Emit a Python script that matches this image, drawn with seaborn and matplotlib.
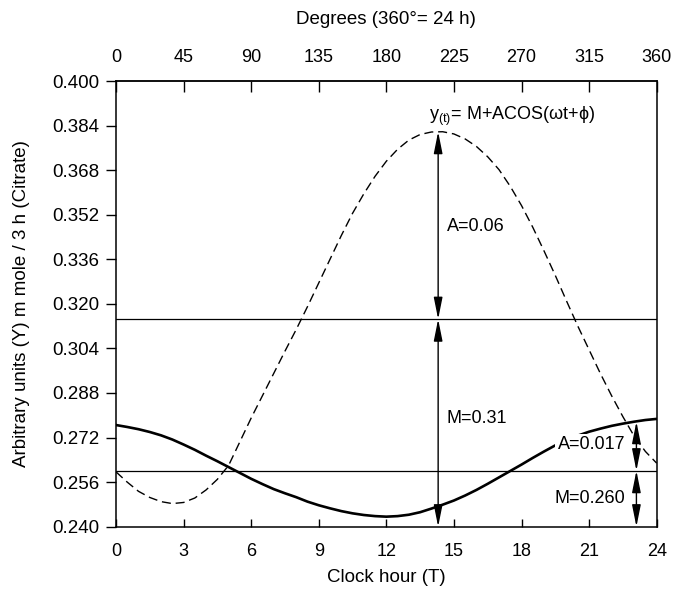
import matplotlib
matplotlib.use("Agg")
import matplotlib.pyplot as plt
import numpy as np
import pandas as pd
import seaborn as sns

# values, every half clock hour
hours = np.arange(0, 24.5, 0.5)
dashed_values = [
    0.2597, 0.2560, 0.2527, 0.2505, 0.2490, 0.2483, 0.2487, 0.2503, 0.2532,
    0.2570, 0.2620, 0.2705, 0.2790, 0.2870, 0.2950, 0.3030, 0.3108, 0.3190,
    0.3275, 0.3360, 0.3445, 0.3525, 0.3595, 0.3658, 0.3712, 0.3755, 0.3788,
    0.3808, 0.3817, 0.3818, 0.3810, 0.3792, 0.3765, 0.3728, 0.3682, 0.3622,
    0.3553, 0.3475, 0.3390, 0.3302, 0.3210, 0.3120, 0.3035, 0.2950, 0.2870,
    0.2795, 0.2725, 0.2670, 0.2628,
]
solid_values = [
    0.2765, 0.2758, 0.2750, 0.2740, 0.2728, 0.2713, 0.2695, 0.2676, 0.2655,
    0.2635, 0.2614, 0.2593, 0.2572, 0.2553, 0.2535, 0.2520, 0.2506, 0.2490,
    0.2477, 0.2466, 0.2456, 0.2448, 0.2442, 0.2438, 0.2436, 0.2438, 0.2443,
    0.2452, 0.2465, 0.2479, 0.2494, 0.2512, 0.2532, 0.2554, 0.2577, 0.2600,
    0.2623, 0.2647, 0.2670, 0.2692, 0.2711, 0.2727, 0.2741, 0.2752, 0.2762,
    0.2770, 0.2777, 0.2783, 0.2787,
]
dashed_mesor = 0.3145
solid_mesor = 0.2601
dashed_peak_hour = 14.3
solid_arrow_hour = 23.1

y_ticks = [0.240, 0.256, 0.272, 0.288, 0.304, 0.320, 0.336, 0.352, 0.368, 0.384, 0.400]
hour_ticks = [0, 3, 6, 9, 12, 15, 18, 21, 24]
degree_ticks = [0, 45, 90, 135, 180, 225, 270, 315, 360]


def double_arrow(ax, x, y_from, y_to):
    ax.annotate(
        "", xy=(x, y_to), xytext=(x, y_from),
        arrowprops=dict(arrowstyle="<|-|>,head_length=1.1,head_width=0.22",
                        color="black", lw=1.0, shrinkA=0, shrinkB=0),
    )


def main():
    sns.set_theme(style="ticks")
    plt.rcParams["font.family"] = ["Liberation Sans", "DejaVu Sans"]
    plt.rcParams["mathtext.fontset"] = "custom"
    plt.rcParams["mathtext.rm"] = "Liberation Sans"
    plt.rcParams["text.color"] = "black"
    plt.rcParams["axes.labelcolor"] = "black"

    df = pd.DataFrame({"hour": hours, "dashed": dashed_values, "solid": solid_values})

    fig = plt.figure(figsize=(6.77, 5.91), dpi=100)
    ax = fig.add_axes([0.1713, 0.1088, 0.7987, 0.7541])

    sns.lineplot(data=df, x="hour", y="dashed", color="black", lw=1.0,
                 linestyle=(0, (6.5, 3.5)), ax=ax)
    sns.lineplot(data=df, x="hour", y="solid", color="black", lw=1.9, ax=ax)

    ax.axhline(dashed_mesor, color="black", lw=0.9)
    ax.axhline(solid_mesor, color="black", lw=0.9)

    ax.set_xlim(0, 24)
    ax.set_ylim(0.240, 0.400)
    ax.set_xticks(hour_ticks)
    ax.set_yticks(y_ticks)
    ax.set_yticklabels([f"{v:.3f}" for v in y_ticks])
    ax.tick_params(axis="x", direction="in", length=6, width=1, pad=12,
                   labelsize=13, colors="black")
    ax.tick_params(axis="y", direction="out", length=7, width=1, pad=5,
                   labelsize=13.5, colors="black")
    ax.set_xlabel("")
    ax.set_ylabel("")
    for spine in ax.spines.values():
        spine.set_visible(True)
        spine.set_color("black")
        spine.set_linewidth(1.1)

    top = ax.secondary_xaxis("top", functions=(lambda h: h * 15, lambda d: d / 15))
    top.set_xticks(degree_ticks)
    top.tick_params(direction="in", length=8, width=1, pad=11,
                    labelsize=13, colors="black")
    top.spines["top"].set_linewidth(1.1)

    # amplitude / mesor arrows
    peak = max(dashed_values)
    double_arrow(ax, dashed_peak_hour, dashed_mesor, peak)
    double_arrow(ax, dashed_peak_hour, 0.240, dashed_mesor)
    double_arrow(ax, solid_arrow_hour, solid_mesor, 0.2777)
    double_arrow(ax, solid_arrow_hour, 0.240, solid_mesor)

    ax.text(13.9, 0.3872, r"y$_{\mathregular{(t)}}$= M+ACOS(ωt+ϕ)",
            fontsize=13, va="center", ha="left")
    ax.text(14.68, 0.3477, "A=0.06", fontsize=13, va="center", ha="left")
    ax.text(14.68, 0.2789, "M=0.31", fontsize=13, va="center", ha="left")
    ax.text(22.6, 0.2696, "A=0.017", fontsize=13, va="center", ha="right",
            bbox=dict(facecolor="white", edgecolor="none", pad=1.5), zorder=5)
    ax.text(22.6, 0.2502, "M=0.260", fontsize=13, va="center", ha="right")

    fig.text(386 / 677, 1 - 578 / 591, "Clock hour (T)", fontsize=13.5,
             ha="center", va="center")
    fig.text(386 / 677, 1 - 20 / 591, "Degrees (360°= 24 h)", fontsize=13.5,
             ha="center", va="center")
    fig.text(22 / 677, 1 - 304 / 591, "Arbitrary units (Y) m mole / 3 h (Citrate)",
             fontsize=13.5, ha="center", va="center", rotation=90)

    fig.savefig("out.png", dpi=100)
    plt.close(fig)


if __name__ == "__main__":
    main()
